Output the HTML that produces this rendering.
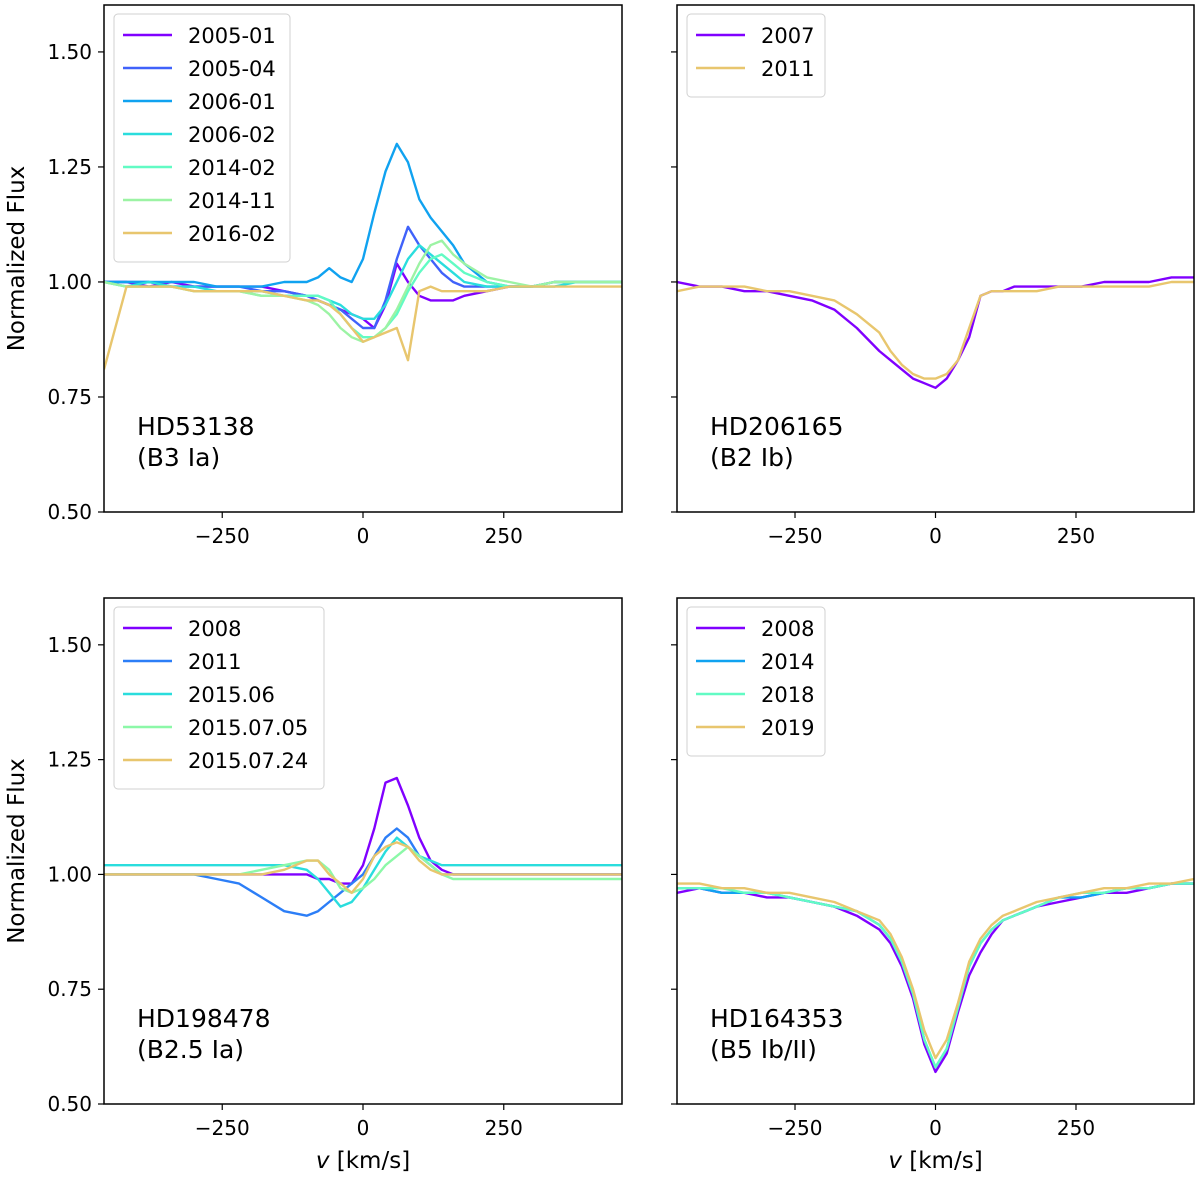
<!DOCTYPE html>
<html><head><meta charset="utf-8"><style>
html,body{margin:0;padding:0;background:#fff;}
svg{display:block;font-family:"DejaVu Sans","Liberation Sans",sans-serif;}
</style></head><body>
<svg id="chart" width="1200" height="1178" viewBox="0 0 1200 1178" xmlns="http://www.w3.org/2000/svg"></svg>
<script>
// ---- data ----
const vGrid = [-460,-420,-380,-340,-300,-260,-220,-180,-140,-100,-80,-60,-40,-20,0,20,40,60,80,100,120,140,160,180,220,260,300,340,380,420,460];
const yTicks = [0.5,0.75,1.0,1.25,1.5];
const yTickLabels = ["0.50","0.75","1.00","1.25","1.50"];
const xTicks = [-250,0,250];
const xTickLabels = ["\u2212250","0","250"];

const tlLabels = ["2005-01","2005-04","2006-01","2006-02","2014-02","2014-11","2016-02"];
const tl0 = [1.0,1.0,0.99,1.0,0.99,0.99,0.99,0.99,0.98,0.97,0.96,0.95,0.94,0.93,0.92,0.9,0.95,1.04,1.0,0.97,0.96,0.96,0.96,0.97,0.98,0.99,0.99,1.0,1.0,1.0,1.0];
const tl1 = [1.0,1.0,1.0,0.99,0.99,0.99,0.99,0.98,0.98,0.97,0.96,0.95,0.94,0.92,0.9,0.9,0.96,1.05,1.12,1.08,1.05,1.02,1.0,0.99,0.99,0.99,0.99,1.0,1.0,1.0,1.0];
const tl2 = [1.0,1.0,1.0,1.0,1.0,0.99,0.99,0.99,1.0,1.0,1.01,1.03,1.01,1.0,1.05,1.15,1.24,1.3,1.26,1.18,1.14,1.11,1.08,1.04,1.0,0.99,0.99,1.0,1.0,1.0,1.0];
const tl3 = [1.0,0.99,1.0,0.99,0.99,0.98,0.98,0.98,0.97,0.97,0.97,0.96,0.95,0.93,0.92,0.92,0.95,1.0,1.05,1.08,1.06,1.04,1.02,1.0,0.99,0.99,0.99,0.99,1.0,1.0,1.0];
const tl4 = [1.0,0.99,0.99,0.99,0.98,0.98,0.98,0.97,0.97,0.97,0.97,0.96,0.93,0.9,0.88,0.88,0.9,0.93,0.98,1.02,1.05,1.06,1.04,1.02,1.0,0.99,0.99,1.0,1.0,1.0,1.0];
const tl5 = [1.0,0.99,0.99,0.99,0.98,0.98,0.98,0.97,0.97,0.96,0.95,0.93,0.9,0.88,0.87,0.88,0.9,0.94,0.99,1.04,1.08,1.09,1.06,1.04,1.01,1.0,0.99,1.0,1.0,1.0,1.0];
const tl6 = [0.81,0.99,0.99,0.99,0.98,0.98,0.98,0.98,0.97,0.96,0.96,0.95,0.93,0.9,0.87,0.88,0.89,0.9,0.83,0.98,0.99,0.98,0.98,0.98,0.98,0.99,0.99,0.99,0.99,0.99,0.99];
const tlSeries = [tl0,tl1,tl2,tl3,tl4,tl5,tl6];

const trLabels = ["2007","2011"];
const tr0 = [1.0,0.99,0.99,0.98,0.98,0.97,0.96,0.94,0.9,0.85,0.83,0.81,0.79,0.78,0.77,0.79,0.83,0.88,0.97,0.98,0.98,0.99,0.99,0.99,0.99,0.99,1.0,1.0,1.0,1.01,1.01];
const tr1 = [0.98,0.99,0.99,0.99,0.98,0.98,0.97,0.96,0.93,0.89,0.85,0.82,0.8,0.79,0.79,0.8,0.83,0.9,0.97,0.98,0.98,0.98,0.98,0.98,0.99,0.99,0.99,0.99,0.99,1.0,1.0];
const trSeries = [tr0,tr1];

const blLabels = ["2008","2011","2015.06","2015.07.05","2015.07.24"];
const bl0 = [1.0,1.0,1.0,1.0,1.0,1.0,1.0,1.0,1.0,1.0,0.99,0.99,0.98,0.98,1.02,1.1,1.2,1.21,1.15,1.08,1.03,1.01,1.0,1.0,1.0,1.0,1.0,1.0,1.0,1.0,1.0];
const bl1 = [1.0,1.0,1.0,1.0,1.0,0.99,0.98,0.95,0.92,0.91,0.92,0.94,0.96,0.98,1.0,1.04,1.08,1.1,1.08,1.04,1.02,1.0,1.0,1.0,1.0,1.0,1.0,1.0,1.0,1.0,1.0];
const bl2 = [1.02,1.02,1.02,1.02,1.02,1.02,1.02,1.02,1.02,1.01,0.99,0.96,0.93,0.94,0.97,1.01,1.05,1.08,1.06,1.04,1.03,1.02,1.02,1.02,1.02,1.02,1.02,1.02,1.02,1.02,1.02];
const bl3 = [1.0,1.0,1.0,1.0,1.0,1.0,1.0,1.01,1.02,1.03,1.03,1.01,0.97,0.96,0.97,0.99,1.02,1.04,1.06,1.04,1.02,1.0,0.99,0.99,0.99,0.99,0.99,0.99,0.99,0.99,0.99];
const bl4 = [1.0,1.0,1.0,1.0,1.0,1.0,1.0,1.0,1.01,1.03,1.03,1.0,0.98,0.96,0.99,1.04,1.06,1.07,1.06,1.03,1.01,1.0,1.0,1.0,1.0,1.0,1.0,1.0,1.0,1.0,1.0];
const blSeries = [bl0,bl1,bl2,bl3,bl4];

const brLabels = ["2008","2014","2018","2019"];
const br0 = [0.96,0.97,0.96,0.96,0.95,0.95,0.94,0.93,0.91,0.88,0.85,0.8,0.73,0.63,0.57,0.61,0.7,0.78,0.83,0.87,0.9,0.91,0.92,0.93,0.94,0.95,0.96,0.96,0.97,0.98,0.98];
const br1 = [0.97,0.97,0.96,0.96,0.96,0.95,0.94,0.93,0.92,0.89,0.86,0.81,0.74,0.64,0.58,0.62,0.71,0.8,0.85,0.88,0.9,0.91,0.92,0.93,0.95,0.95,0.96,0.97,0.97,0.98,0.98];
const br2 = [0.97,0.97,0.97,0.96,0.96,0.95,0.94,0.93,0.92,0.89,0.86,0.81,0.74,0.64,0.58,0.62,0.71,0.8,0.85,0.88,0.9,0.91,0.92,0.93,0.95,0.96,0.96,0.97,0.97,0.98,0.98];
const br3 = [0.98,0.98,0.97,0.97,0.96,0.96,0.95,0.94,0.92,0.9,0.87,0.82,0.75,0.66,0.6,0.64,0.72,0.81,0.86,0.89,0.91,0.92,0.93,0.94,0.95,0.96,0.97,0.97,0.98,0.98,0.99];
const brSeries = [br0,br1,br2,br3];

const c7 = ["#8000ff","#4062fa","#10a2f0","#2adddd","#62fbc4","#9cf3a4","#e8c66e"];
const c2 = ["#8000ff","#e8c66e"];
const c5 = ["#8000ff","#2c7ef7","#2adddd","#8cf8a8","#e8c66e"];
const c4 = ["#8000ff","#10a2f0","#62fbc4","#e8c66e"];

const NS = "http://www.w3.org/2000/svg";
const svg = document.getElementById("chart");
function mk(tag, attrs, parent){ const e=document.createElementNS(NS,tag); for(const k in attrs) e.setAttribute(k,attrs[k]); (parent||svg).appendChild(e); return e; }

const XMIN=-460, XMAX=460, YMIN=0.5, YMAX=1.602;
function panel(name, x0, y0, w, h, series, labels, colors, star, sp, showY, showX, legW){
  const g = mk("g",{});
  
  
  const xs = v => x0 + (v-XMIN)/(XMAX-XMIN)*w;
  const ys = f => y0 + h - (f-YMIN)/(YMAX-YMIN)*h;
  const clip = mk("clipPath",{id:name+"-clip"},g);
  mk("rect",{x:x0,y:y0,width:w,height:h},clip);
  const lines = mk("g",{"clip-path":"url(#"+name+"-clip)"},g);
  series.forEach((s,i)=>{
    const d = s.map((f,j)=>(j?"L":"M")+xs(vGrid[j]).toFixed(1)+","+ys(f).toFixed(1)).join("");
    const p = mk("path",{d:d,fill:"none",stroke:colors[i],"stroke-width":2.4,"stroke-linejoin":"round"},lines);
    
    
  });
  mk("rect",{x:x0,y:y0,width:w,height:h,fill:"none",stroke:"#000","stroke-width":1.5},g);
  yTicks.forEach((t,i)=>{
    const y=ys(t);
    mk("line",{x1:x0-6,x2:x0,y1:y,y2:y,stroke:"#000","stroke-width":1.2},g);
    if(showY){ const tx=mk("text",{x:x0-12,y:y+7,"text-anchor":"end","font-size":20},g); tx.textContent=yTickLabels[i];
      
       }
  });
  xTicks.forEach((t,i)=>{
    const x=xs(t);
    mk("line",{x1:x,x2:x,y1:y0+h,y2:y0+h+6,stroke:"#000","stroke-width":1.2},g);
    const tx=mk("text",{x:x,y:y0+h+31,"text-anchor":"middle","font-size":20},g); tx.textContent=xTickLabels[i];
    
    
  });
  if(showY){
    const yl=mk("text",{x:0,y:0,"text-anchor":"middle","font-size":23,transform:"translate("+(x0-80)+","+(y0+h/2)+") rotate(-90)"},g);
    yl.textContent="Normalized Flux";
    
    
  }
  if(showX){
    const xl=mk("text",{x:x0+w/2,y:y0+h+64,"text-anchor":"middle","font-size":23},g);
    xl.innerHTML='<tspan font-style="italic">v</tspan> [km/s]';
    
    
  }
  const lg = mk("g",{},g);
  
  
  mk("rect",{x:x0+10,y:y0+9,width:legW,height:labels.length*33+17,rx:4,fill:"#fff",stroke:"#d0d0d0","stroke-width":1},lg);
  labels.forEach((l,i)=>{
    const y=y0+30+i*33;
    mk("line",{x1:x0+19,x2:x0+68,y1:y,y2:y,stroke:colors[i],"stroke-width":2.5},lg);
    const t=mk("text",{x:x0+84,y:y+8,"font-size":21},lg); t.textContent=l;
    
    
  });
  const a=mk("text",{x:x0+33,y:y0+h-77,"font-size":25},g); a.textContent=star;
  
  
  const b=mk("text",{x:x0+33,y:y0+h-46,"font-size":25},g); b.textContent=sp;
  
  
}
panel("panel-hd53138",104,5,518,507,tlSeries,tlLabels,c7,"HD53138","(B3 Ia)",true,false,176);
panel("panel-hd206165",677,5,517,507,trSeries,trLabels,c2,"HD206165","(B2 Ib)",false,false,138);
panel("panel-hd198478",104,598,518,506,blSeries,blLabels,c5,"HD198478","(B2.5 Ia)",true,true,210);
panel("panel-hd164353",677,598,517,506,brSeries,brLabels,c4,"HD164353","(B5 Ib/II)",false,true,138);
</script>
</body></html>
